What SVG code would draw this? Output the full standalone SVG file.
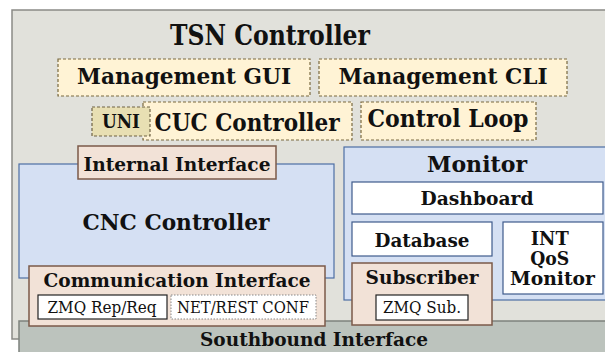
<svg xmlns="http://www.w3.org/2000/svg" width="605" height="352" viewBox="0 0 605 352">
  <style>
    text { font-family: "DejaVu Serif", "Liberation Serif", serif; fill: #111; }
    .b { font-weight: bold; }
    .r { font-weight: normal; }
    .outer { fill: #e1e1db; stroke: #8a8a86; stroke-width: 1.5; }
    .south { fill: #bcc3bd; stroke: #7d827d; stroke-width: 1.5; }
    .app { fill: #fff3d5; stroke: #7a6a40; stroke-width: 1.2; stroke-dasharray: 3 2; }
    .uni { fill: #e8dfb3; stroke: #6e6244; stroke-width: 1.2; stroke-dasharray: 3 2; }
    .iface { fill: #f2e2d7; stroke: #7b5a4a; stroke-width: 1.5; }
    .blue { fill: #d5e0f3; stroke: #4d6ea4; stroke-width: 1.2; }
    .white { fill: #ffffff; stroke: #3f5a8c; stroke-width: 1.2; }
    .tag { fill: #ffffff; stroke: #222; stroke-width: 1.2; }
    .tagd { fill: #ffffff; stroke: #888; stroke-width: 1; stroke-dasharray: 1.5 1.5; }
  </style>

  <!-- outer controller frame -->
  <g id="tsn-controller">
    <rect class="outer" x="12" y="10" width="600" height="329"/>
    <text class="b" x="270" y="45" font-size="28" text-anchor="middle" textLength="200" lengthAdjust="spacingAndGlyphs">TSN Controller</text>
  </g>

  <!-- southbound layer -->
  <g id="southbound">
    <rect class="south" x="19" y="321" width="600" height="40"/>
    <text class="b" x="314" y="346" font-size="19" text-anchor="middle" textLength="228" lengthAdjust="spacingAndGlyphs">Southbound Interface</text>
  </g>

  <g id="management-gui">
    <rect class="app" x="58" y="59" width="252" height="37"/>
    <text class="b" x="184" y="84" font-size="23" text-anchor="middle" textLength="214" lengthAdjust="spacingAndGlyphs">Management GUI</text>
  </g>

  <g id="management-cli">
    <rect class="app" x="319" y="59" width="248" height="37"/>
    <text class="b" x="443" y="84" font-size="23" text-anchor="middle" textLength="209" lengthAdjust="spacingAndGlyphs">Management CLI</text>
  </g>

  <g id="cuc-controller">
    <rect class="app" x="143" y="102" width="209" height="38"/>
    <text class="b" x="247" y="131" font-size="24" text-anchor="middle" textLength="185" lengthAdjust="spacingAndGlyphs">CUC Controller</text>
  </g>

  <g id="uni">
    <rect class="uni" x="92" y="107" width="58" height="29"/>
    <text class="b" x="121" y="128" font-size="18" text-anchor="middle" textLength="38" lengthAdjust="spacingAndGlyphs">UNI</text>
  </g>

  <g id="control-loop">
    <rect class="app" x="361" y="102" width="175" height="38"/>
    <text class="b" x="448" y="127" font-size="24" text-anchor="middle" textLength="161" lengthAdjust="spacingAndGlyphs">Control Loop</text>
  </g>

  <!-- CNC controller with its interfaces -->
  <g id="cnc-controller">
    <rect class="blue" x="19" y="164" width="315" height="114"/>
    <text class="b" x="176" y="230" font-size="23" text-anchor="middle" textLength="187" lengthAdjust="spacingAndGlyphs">CNC Controller</text>
  </g>

  <g id="internal-interface">
    <rect class="iface" x="78" y="146" width="198" height="33"/>
    <text class="b" x="177" y="170.5" font-size="19" text-anchor="middle" textLength="187" lengthAdjust="spacingAndGlyphs">Internal Interface</text>
  </g>

  <g id="communication-interface">
    <rect class="iface" x="29" y="266" width="296" height="60"/>
    <text class="b" x="177" y="287" font-size="19" text-anchor="middle" textLength="267" lengthAdjust="spacingAndGlyphs">Communication Interface</text>
    <g id="zmq-rep-req">
      <rect class="tag" x="38" y="295" width="129" height="24"/>
      <text class="r" x="102" y="313" font-size="16" text-anchor="middle" textLength="109" lengthAdjust="spacingAndGlyphs">ZMQ Rep/Req</text>
    </g>
    <g id="net-rest-conf">
      <rect class="tagd" x="171" y="295" width="145" height="24"/>
      <text class="r" x="243" y="313" font-size="16" text-anchor="middle" textLength="132" lengthAdjust="spacingAndGlyphs">NET/REST CONF</text>
    </g>
  </g>

  <!-- monitoring block -->
  <g id="monitor">
    <rect class="blue" x="344" y="147" width="270" height="153"/>
    <text class="b" x="477" y="171.5" font-size="23" text-anchor="middle" textLength="100" lengthAdjust="spacingAndGlyphs">Monitor</text>
  </g>

  <g id="dashboard">
    <rect class="white" x="352" y="182" width="251" height="32"/>
    <text class="b" x="477" y="205" font-size="19" text-anchor="middle" textLength="113" lengthAdjust="spacingAndGlyphs">Dashboard</text>
  </g>

  <g id="database">
    <rect class="white" x="352" y="222" width="140" height="34"/>
    <text class="b" x="422" y="246.5" font-size="19" text-anchor="middle" textLength="95" lengthAdjust="spacingAndGlyphs">Database</text>
  </g>

  <g id="int-qos-monitor">
    <rect class="white" x="503" y="222" width="100" height="72"/>
    <text class="b" font-size="18.5" text-anchor="middle">
      <tspan x="553" y="245" textLength="38" lengthAdjust="spacingAndGlyphs">INT</tspan>
      <tspan x="553" y="265" textLength="39" lengthAdjust="spacingAndGlyphs">QoS</tspan>
      <tspan x="552.5" y="285" textLength="85" lengthAdjust="spacingAndGlyphs">Monitor</tspan>
    </text>
  </g>

  <g id="subscriber">
    <rect class="iface" x="352" y="263" width="140" height="62"/>
    <text class="b" x="422" y="284" font-size="19" text-anchor="middle" textLength="113" lengthAdjust="spacingAndGlyphs">Subscriber</text>
    <g id="zmq-sub">
      <rect class="tag" x="376" y="295" width="92" height="25"/>
      <text class="r" x="422" y="313" font-size="16" text-anchor="middle" textLength="78" lengthAdjust="spacingAndGlyphs">ZMQ Sub.</text>
    </g>
  </g>
</svg>
